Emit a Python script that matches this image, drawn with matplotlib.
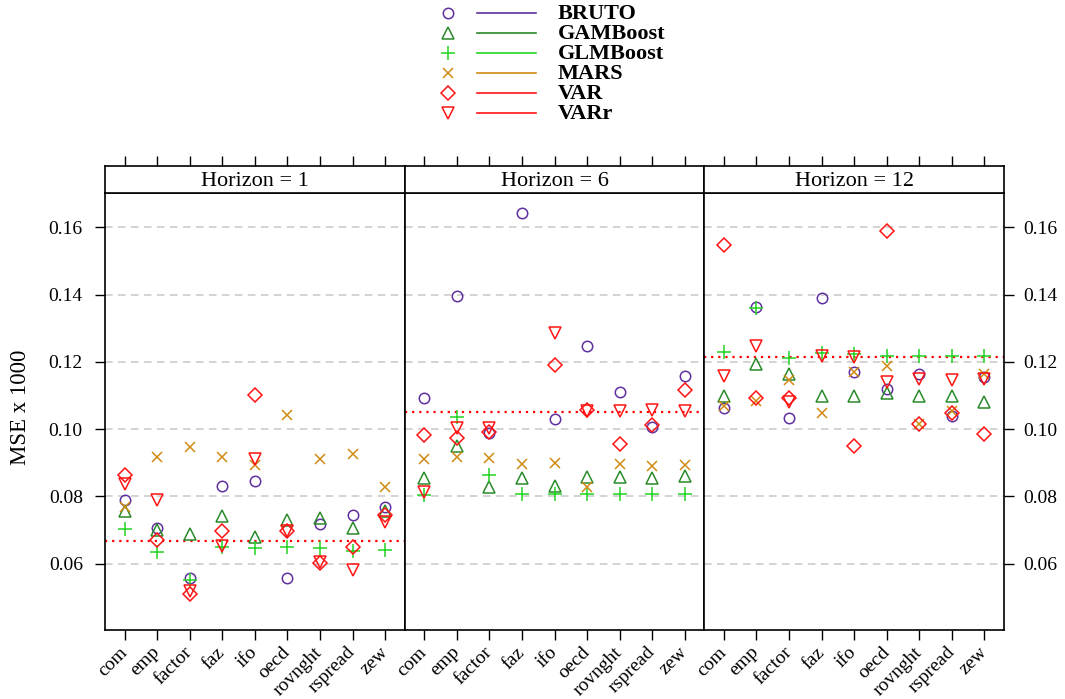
import numpy as np
import matplotlib
matplotlib.use("Agg")
import matplotlib.pyplot as plt

plt.rcParams["font.family"] = ["Liberation Serif", "DejaVu Serif"]

variables = ["com", "emp", "factor", "faz", "ifo", "oecd", "rovnght", "rspread", "zew"]
methods = ["BRUTO", "GAMBoost", "GLMBoost", "MARS", "VAR", "VARr"]
horizons = [1, 6, 12]

nan = np.nan
# MSE x 1000, one list per method and horizon
bruto_h1 = [0.0790, 0.0705, 0.0558, 0.0831, 0.0846, 0.0556, 0.0717, 0.0743, 0.0767]
gamboost_h1 = [0.0755, 0.0699, 0.0689, 0.0740, 0.0679, 0.0730, 0.0735, 0.0705, 0.0755]
glmboost_h1 = [0.0704, 0.0633, 0.0551, 0.0648, 0.0646, 0.0648, 0.0646, 0.0636, 0.0641]
mars_h1 = [0.0768, 0.0916, 0.0947, 0.0916, 0.0892, 0.1041, 0.0910, 0.0927, 0.0827]
var_h1 = [0.0863, 0.0671, 0.0511, 0.0698, 0.1101, 0.0698, 0.0603, 0.0648, 0.0743]
varr_h1 = [0.0837, 0.0790, 0.0518, 0.0653, 0.0912, 0.0696, 0.0606, 0.0581, 0.0725]

bruto_h6 = [0.1093, 0.1396, 0.0989, 0.1643, 0.1029, 0.1246, 0.1111, 0.1006, 0.1158]
gamboost_h6 = [0.0855, 0.0949, 0.0827, 0.0853, 0.0830, 0.0857, 0.0857, 0.0853, 0.0860]
glmboost_h6 = [0.0803, 0.1036, 0.0863, 0.0807, 0.0807, 0.0807, 0.0807, 0.0807, 0.0807]
mars_h6 = [0.0910, 0.0917, 0.0913, 0.0895, 0.0899, 0.0827, 0.0895, 0.0889, 0.0892]
var_h6 = [0.0981, 0.0974, 0.0992, nan, 0.1191, 0.1057, 0.0957, 0.1011, 0.1116]
varr_h6 = [0.0812, 0.1002, 0.1002, nan, 0.1287, 0.1055, 0.1054, 0.1056, 0.1054]

bruto_h12 = [0.1064, 0.1362, 0.1034, 0.1389, 0.1170, 0.1118, 0.1163, 0.1039, 0.1156]
gamboost_h12 = [0.1099, 0.1193, 0.1165, 0.1099, 0.1099, 0.1108, 0.1099, 0.1099, 0.1081]
glmboost_h12 = [0.1228, 0.1359, 0.1211, 0.1225, 0.1223, 0.1218, 0.1218, 0.1218, 0.1218]
mars_h12 = [0.1069, 0.1082, 0.1146, 0.1047, 0.1170, 0.1188, 0.1016, 0.1054, 0.1163]
var_h12 = [0.1547, 0.1092, 0.1092, nan, 0.0949, 0.1589, 0.1016, 0.1049, 0.0984]
varr_h12 = [0.1158, 0.1246, 0.1079, 0.1218, 0.1213, 0.1140, 0.1148, 0.1145, 0.1148]

ref_level = [0.0667, 0.1052, 0.1215]

data = {
    1: [bruto_h1, gamboost_h1, glmboost_h1, mars_h1, var_h1, varr_h1],
    6: [bruto_h6, gamboost_h6, glmboost_h6, mars_h6, var_h6, varr_h6],
    12: [bruto_h12, gamboost_h12, glmboost_h12, mars_h12, var_h12, varr_h12],
}

colors = ["#5f2fa0", "#2a8a2a", "#22d422", "#d08a12", "#ff1414", "#ff1414"]
markers = ["o", "^", "+", "x", "D", "v"]
msizes = [7.5, 8.5, 9.5, 7, 7, 8.5]

W, H = 1065, 699
fig = plt.figure(figsize=(W / 100, H / 100), dpi=100)

left_px, right_px = 105, 1004
bot_px, top_px = 629.5, 193.3
strip_top = 166
pw = (right_px - left_px) / 3
x = np.arange(1, len(variables) + 1)

for i, h in enumerate(horizons):
    l = (left_px + i * pw) / W
    ax = fig.add_axes([l, (H - bot_px) / H, pw / W, (bot_px - top_px) / H])
    sax = fig.add_axes([l, (H - top_px) / H, pw / W, (top_px - strip_top) / H], sharex=ax)

    for yv in [0.06, 0.08, 0.10, 0.12, 0.14, 0.16]:
        ax.axhline(yv, color="#c8c8c8", lw=1.1, ls=(0, (5, 3.5)), zorder=0)
    ax.axhline(ref_level[i], color="#ff0000", lw=1.6, ls=(0, (1, 2.2)), zorder=1)

    for j, m in enumerate(methods):
        ax.plot(x, data[h][j], ls="none", marker=markers[j], ms=msizes[j],
                mfc="none", mec=colors[j], mew=1.1, zorder=3)

    ax.set_xlim(0.4, 9.6)
    ax.set_ylim(0.0404, 0.1701)
    ax.set_xticks(x)
    ax.set_xticklabels(variables, rotation=45, ha="right", va="center",
                       rotation_mode="anchor", fontsize=14)
    ax.set_yticks([0.06, 0.08, 0.10, 0.12, 0.14, 0.16])
    ax.tick_params(axis="x", direction="out", length=7.5, width=1, pad=7)
    ax.tick_params(axis="y", direction="out", length=7.5, width=1, labelsize=14)
    if i == 0:
        ax.tick_params(axis="y", left=True, labelleft=True, right=False, pad=8.5)
    elif i == 2:
        ax.tick_params(axis="y", left=False, labelleft=False, right=True,
                       labelright=True, pad=6.5)
    else:
        ax.tick_params(axis="y", left=False, labelleft=False)
    for s in ax.spines.values():
        s.set_linewidth(1.2)

    sax.set_facecolor("white")
    sax.set_yticks([])
    sax.tick_params(axis="x", bottom=False, labelbottom=False, top=True, labeltop=False,
                    direction="out", length=7.5, width=1)
    for s in sax.spines.values():
        s.set_linewidth(1.2)
    sax.text(0.5, 0.45, f"Horizon = {h}", transform=sax.transAxes,
             ha="center", va="center", fontsize=16)

fig.text(21 / W, 1 - 407 / H, "MSE x 1000", rotation=90, ha="center", va="center",
         fontsize=16.5)

# legend drawn in pixel coordinates at the top
lax = fig.add_axes([0, 1 - 125 / H, 1, 125 / H])
lax.set_xlim(0, W)
lax.set_ylim(125, 0)
lax.axis("off")
for j, m in enumerate(methods):
    yy = 13 + 20 * j
    lax.plot([448], [yy], ls="none", marker=markers[j], ms=msizes[j],
             mfc="none", mec=colors[j], mew=1.1)
    lax.plot([477, 536], [yy, yy], color=colors[j], lw=1.2)
    lax.text(558, yy + 1, m, fontsize=16, fontweight="bold", va="center", ha="left")

fig.savefig("out.png", dpi=100)
